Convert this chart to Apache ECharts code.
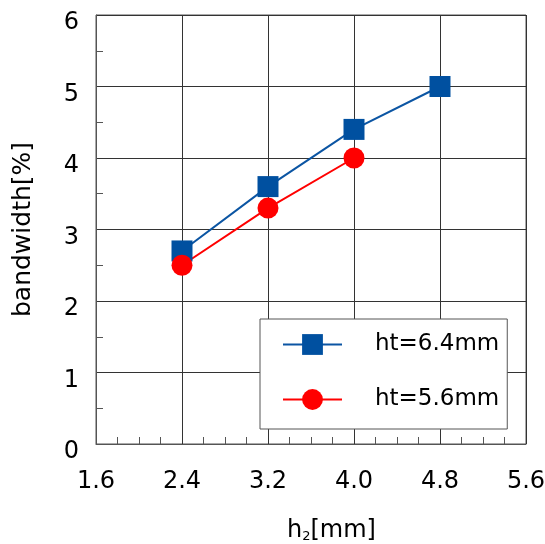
<!DOCTYPE html>
<html>
<head>
<meta charset="utf-8">
<script src="https://cdn.jsdelivr.net/npm/echarts@6/dist/echarts.min.js"></script>
<style>html,body{margin:0;padding:0;background:#fff;}#c{width:545px;height:544px;}</style>
</head>
<body>
<div id="c"></div>
<script>
const seriesNames = ['ht=6.4mm', 'ht=5.6mm'];
const h2Values = [2.4, 3.2, 4.0, 4.8];
const bandwidth64 = [2.7, 3.6, 4.4, 5.0];
const bandwidth56 = [2.5, 3.3, 4.0];

const FONT = 'DejaVu Sans';
const chart = echarts.init(document.getElementById('c'), null, {renderer: 'canvas'});
chart.setOption({
  animation: false,
  backgroundColor: '#fff',
  grid: {left: 96, right: 19, top: 15, bottom: 100, show: true, borderColor: '#555', borderWidth: 1,
    containLabel: false, outerBoundsMode: 'none'},
  legend: {
    orient: 'vertical',
    left: 260, top: 319,
    backgroundColor: '#fff',
    borderColor: '#555', borderWidth: 1,
    padding: [14, 8, 18, 22],
    itemWidth: 59, itemHeight: 26, itemGap: 32,
    textStyle: {fontFamily: FONT, fontSize: 23, color: '#000', padding: [0, 0, 0, 28]},
    data: seriesNames
  },
  xAxis: {
    type: 'value', min: 1.6, max: 5.6, interval: 0.8,
    name: '{a|h}{s|2}{a|[mm]}',
    nameLocation: 'middle', nameGap: 75,
    nameTextStyle: {fontFamily: FONT, fontSize: 23, color: '#000', padding: [0, 0, 0, 41],
      rich: {a: {fontFamily: FONT, fontSize: 24, color: '#000', verticalAlign: 'bottom'},
             s: {fontFamily: FONT, fontSize: 13, color: '#000', verticalAlign: 'bottom'}}},
    axisLine: {show: true, lineStyle: {color: '#555', width: 1}},
    axisTick: {show: false},
    minorTick: {show: true, splitNumber: 4, length: -7, lineStyle: {color: '#555', width: 1}},
    splitLine: {show: true, lineStyle: {color: '#333', width: 1}},
    axisLabel: {fontFamily: FONT, fontSize: 24, color: '#000', margin: 26,
      formatter: v => v.toFixed(1)}
  },
  yAxis: {
    type: 'value', min: 0, max: 6, interval: 1,
    name: 'bandwidth[%]',
    nameLocation: 'middle', nameGap: 60,
    nameTextStyle: {fontFamily: FONT, fontSize: 25, color: '#000'},
    axisLine: {show: true, lineStyle: {color: '#555', width: 1}},
    axisTick: {show: false},
    minorTick: {show: true, splitNumber: 2, length: -7, lineStyle: {color: '#555', width: 1}},
    splitLine: {show: true, lineStyle: {color: '#333', width: 1}},
    axisLabel: {fontFamily: FONT, fontSize: 24, color: '#000', margin: 17,
      verticalAlign: 'top', lineHeight: 16}
  },
  series: [
    {
      name: seriesNames[0], type: 'line',
      data: bandwidth64.map((v, i) => [h2Values[i], v]),
      symbol: 'rect', symbolSize: 21,
      itemStyle: {color: '#0050a0'},
      lineStyle: {color: '#0b55a3', width: 2}
    },
    {
      name: seriesNames[1], type: 'line',
      data: bandwidth56.map((v, i) => [h2Values[i], v]),
      symbol: 'circle', symbolSize: 21,
      itemStyle: {color: '#ff0000'},
      lineStyle: {color: '#ff0000', width: 2}
    }
  ]
});
</script>
</body>
</html>
